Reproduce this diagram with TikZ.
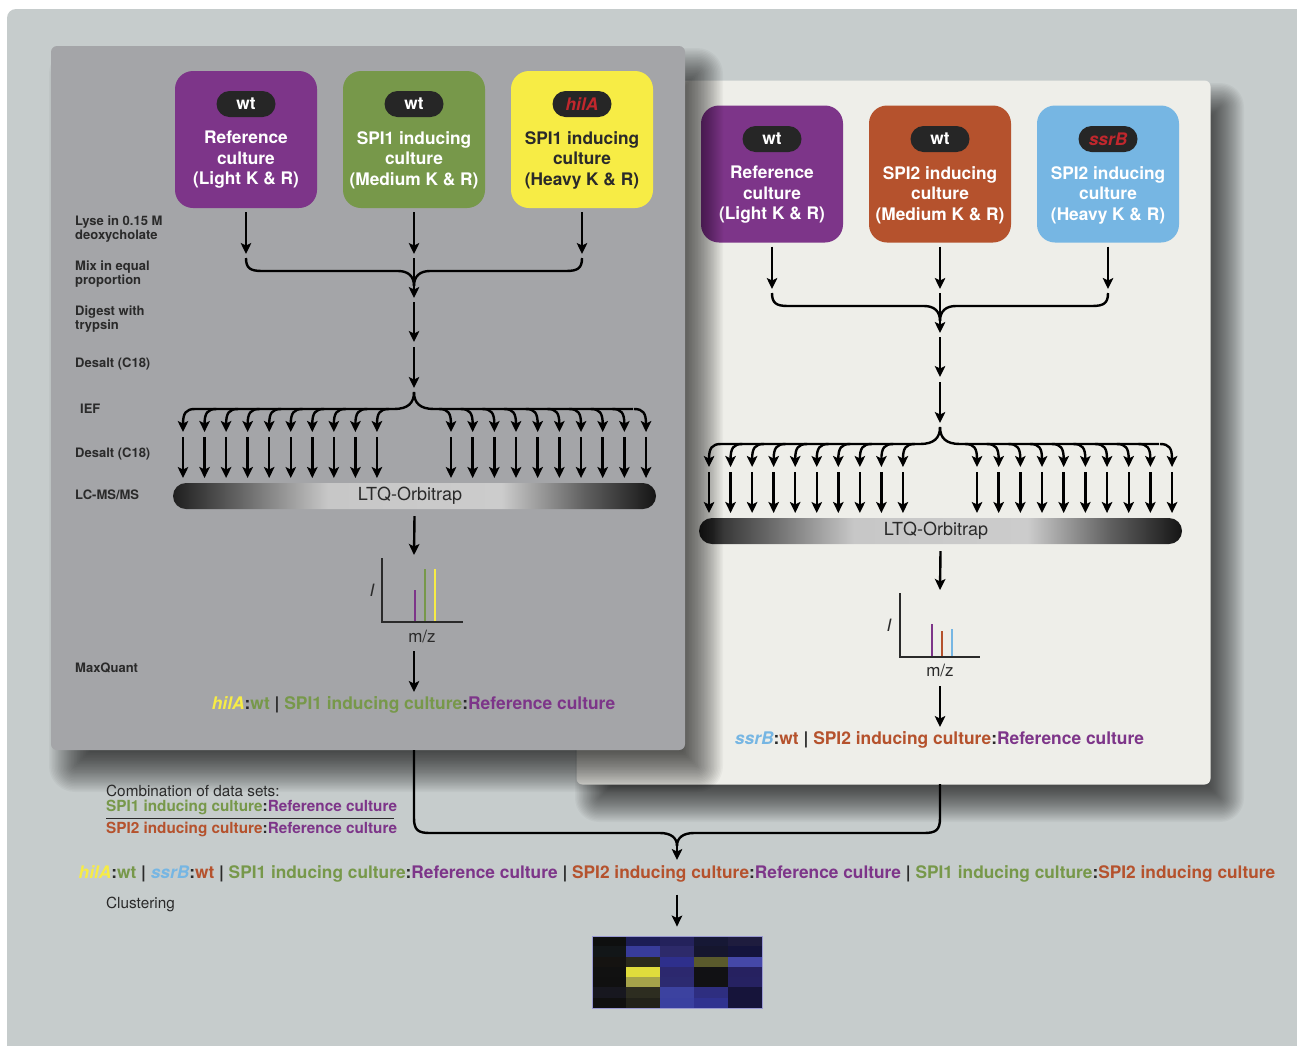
\documentclass[tikz,border=0pt]{standalone}
\usepackage{fontspec}
\setmainfont{TeX Gyre Heros}
\usetikzlibrary{arrows.meta}
\definecolor{bgout}{HTML}{C6CCCC}
\definecolor{panelL}{HTML}{A4A5A8}
\definecolor{panelR}{HTML}{EEEEE9}
\definecolor{cpur}{HTML}{7D3589}
\definecolor{cgrn}{HTML}{77984A}
\definecolor{cyel}{HTML}{F7EC45}
\definecolor{corg}{HTML}{B5522D}
\definecolor{cblu}{HTML}{76B6E3}
\definecolor{cred}{HTML}{C1272D}
\definecolor{cdark}{HTML}{262626}
\definecolor{ctext}{HTML}{2A2A2A}
\pgfdeclarehorizontalshading{ltq}{100bp}{color(0bp)=(black!88); color(25bp)=(black!88); color(32.5bp)=(black!58); color(41bp)=(black!22); color(59bp)=(black!20); color(67.5bp)=(black!62); color(75bp)=(black!92); color(100bp)=(black!92)}
\newcommand\fs[2]{\fontsize{#1}{#2}\selectfont}
% soft shadow: x1,y1,x2,y2,dx,dy,R
\newcommand\softshadow[7]{%
 \foreach \i in {0,...,27}{
   \pgfmathsetmacro\e{#7-2*#7*\i/27}
   \pgfmathsetmacro\rc{max(6+\e,1)}
   \fill[black, fill opacity=0.033, rounded corners=\rc pt] (#1+#5-\e,#2+#6-\e) rectangle (#3+#5+\e,#4+#6+\e);
 }}
\tikzset{
 arr/.style={line width=2.4pt, draw=black, -{Stealth[length=11pt,width=10.5pt,inset=2.5pt]}},
 ln/.style={line width=2.4pt, draw=black},
 cbox/.style={rounded corners=18pt, minimum width=142pt, minimum height=137pt, inner sep=0pt},
 pill/.style={fill=cdark, rounded corners=13pt, minimum width=59pt, minimum height=26pt, inner sep=0pt, font=\bfseries\fs{17.3}{20}},
 btxt/.style={align=center, font=\bfseries\fs{17.3}{20.5}, inner sep=0pt},
 lab/.style={anchor=west, align=left, font=\bfseries\fs{13}{14.5}, text=ctext, inner sep=0pt},
 res/.style={font=\bfseries\fs{17.4}{20}, inner sep=0pt, text=ctext},
 small/.style={anchor=west, font=\fs{15.3}{17}, inner sep=0pt, text=ctext},
 panel/.style={minimum width=634pt, minimum height=704pt, rounded corners=6pt, inner sep=0pt},
 ltqbar/.style={shading=ltq, rounded corners=13pt, minimum width=483pt, minimum height=26pt, inner sep=0pt},
}
% common flow inside one panel (left-panel coordinates); #1 = prefix
\newcommand\flow[1]{%
 \foreach \i/\x in {1/246,2/414,3/582}{
   \coordinate (#1t\i) at (\x,254);
   \draw[arr] ([yshift=-4pt]#1b\i.south) -- (#1t\i);
 }
 \draw[ln] (246,258) .. controls (246,268) and (250,271) .. (262,271) -- (398,271) .. controls (408,271) and (414,276) .. (414,286);
 \draw[ln] (582,258) .. controls (582,268) and (578,271) .. (566,271) -- (430,271) .. controls (420,271) and (414,276) .. (414,286);
 \coordinate (#1m0) at (414,258);
 \coordinate (#1m1) at (414,298);
 \draw[arr] (#1m0) -- (#1m1);
 \coordinate (#1d0) at (414,302);
 \coordinate (#1d1) at (414,342);
 \draw[arr] (#1d0) -- (#1d1);
 \coordinate (#1e0) at (414,347);
 \coordinate (#1e1) at (414,388);
 \draw[arr] (#1e0) -- (#1e1);
 \coordinate (#1f) at (414,392);
 \draw[ln] (#1f) .. controls (414,403) and (408,409) .. (394,409) -- (195,409);
 \draw[ln] (#1f) .. controls (414,403) and (420,409) .. (434,409) -- (633,409);
 \foreach \k in {0,...,9}{
   \pgfmathsetmacro\xa{183+21.55*\k}
   \pgfmathsetmacro\xb{451+21.67*\k}
   \draw[arr] (\xa+12,409) .. controls (\xa+3,409) and (\xa,413) .. (\xa,432);
   \draw[arr] (\xa,437) -- (\xa,478);
   \draw[arr] (\xb-12,409) .. controls (\xb-3,409) and (\xb,413) .. (\xb,432);
   \draw[arr] (\xb,437) -- (\xb,478);
 }
 \node[ltqbar] (#1bar) at (414.5,496) {};
 \node[font=\fs{18}{20}, text=ctext, inner sep=0pt] (#1ltq) at (410,496) {LTQ-Orbitrap};
 \coordinate (#1g1) at (414,555);
 \draw[arr] ([yshift=-7pt]#1bar.south) -- (#1g1);
 \coordinate (#1h0) at (414,651);
 \coordinate (#1h1) at (414,692);
 \draw[arr] (#1h0) -- (#1h1);
}
\begin{document}
\begin{tikzpicture}[x=1pt,y=-1pt]
\useasboundingbox (0,0) rectangle (1297,1045);
\begin{scope}
\clip (0,0) rectangle (1297,1045);
\fill[white] (0,0) rectangle (1297,1045);
\fill[bgout, rounded corners=9pt] (7,1080) -- (7,9) -- (1330,9) -- (1330,1080) -- cycle;
\end{scope}

% ---------- right panel ----------
\softshadow{577}{81}{1210}{784}{16}{20}{18}
\node[panel, fill=panelR] (Rpanel) at (893.5,432.5) {};
\begin{scope}[shift={(526,35)}]
 \node[cbox, fill=cpur] (Rb1) at (246,139) {};
 \node[cbox, fill=corg] (Rb2) at (414,139) {};
 \node[cbox, fill=cblu] (Rb3) at (582,139) {};
 \node[pill, text=white] (Rp1) at (246,104) {wt};
 \node[pill, text=white] (Rp2) at (414,104) {wt};
 \node[pill, text=cred] (Rp3) at (582,104) {\itshape ssrB};
 \node[btxt, text=white] (Rx1) at (246,160) {Reference\\culture\\(Light K \& R)};
 \node[btxt, text=white] (Rx2) at (414,160) {SPI2 inducing\\culture\\(Medium K \& R)};
 \node[btxt, text=white] (Rx3) at (582,160) {SPI2 inducing\\culture\\(Heavy K \& R)};
 \flow{R}
 \draw[line width=2.6pt, cpur] (406,589) -- (406,621);
 \draw[line width=2.6pt, corg] (416,596) -- (416,621);
 \draw[line width=2.6pt, cblu] (426,594) -- (426,621);
 \draw[line width=2.4pt, ctext, line join=miter] (374,558) -- (374,622) -- (454,622);
 \node[font=\itshape\fs{17}{20}, text=ctext, inner sep=0pt] (RI) at (363,590) {I};
 \node[font=\fs{17}{20}, text=ctext, inner sep=0pt] (Rmz) at (414,635) {m/z};
 \node[res] (Rres) at (413.5,705) {\textcolor{cblu}{\itshape ssrB}:\textcolor{corg}{wt} | \textcolor{corg}{SPI2 inducing culture}:\textcolor{cpur}{Reference culture}};
\end{scope}

% ---------- left panel ----------
\softshadow{51}{46}{685}{750}{18}{22}{20}
\node[panel, fill=panelL] (Lpanel) at (368,398) {};
\node[cbox, fill=cpur] (Lb1) at (246,139.5) {};
\node[cbox, fill=cgrn] (Lb2) at (414,139.5) {};
\node[cbox, fill=cyel] (Lb3) at (582,139.5) {};
\node[pill, text=white] (Lp1) at (246,104) {wt};
\node[pill, text=white] (Lp2) at (414,104) {wt};
\node[pill, text=cred] (Lp3) at (582,104) {\itshape hilA};
\node[btxt, text=white] (Lx1) at (246,160) {Reference\\culture\\(Light K \& R)};
\node[btxt, text=white] (Lx2) at (414,160) {SPI1 inducing\\culture\\(Medium K \& R)};
\node[btxt, text=ctext] (Lx3) at (582,160) {SPI1 inducing\\culture\\(Heavy K \& R)};
\flow{L}
\draw[line width=2.6pt, cpur] (415,590) -- (415,621);
\draw[line width=2.6pt, cgrn] (425,569) -- (425,621);
\draw[line width=2.6pt, cyel] (435,569) -- (435,621);
\draw[line width=2.4pt, ctext, line join=miter] (382,558) -- (382,622) -- (463,622);
\node[font=\itshape\fs{17}{20}, text=ctext, inner sep=0pt] (LI) at (372,590) {I};
\node[font=\fs{17}{20}, text=ctext, inner sep=0pt] (Lmz) at (422,636) {m/z};
\node[res] (Lres) at (413.5,705) {\textcolor{cyel}{\itshape hilA}:\textcolor{cgrn}{wt} | \textcolor{cgrn}{SPI1 inducing culture}:\textcolor{cpur}{Reference culture}};

\node[lab] (s1) at (75,229) {Lyse in 0.15 M\\deoxycholate};
\node[lab] (s2) at (75,274) {Mix in equal\\proportion};
\node[lab] (s3) at (75,319) {Digest with\\trypsin};
\node[lab] (s4) at (75,364) {Desalt (C18)};
\node[lab] (s5) at (80,409) {IEF};
\node[lab] (s6) at (75,454) {Desalt (C18)};
\node[lab] (s7) at (75,495) {LC-MS/MS};
\node[lab] (s8) at (75,668) {MaxQuant};

% ---------- combination ----------
\coordinate (Lout) at (414,750);
\coordinate (Rout) at (940,784);
\coordinate (jn) at (677,846);
\coordinate (jt) at (677,860);
\draw[ln] (Lout) -- (414,818) .. controls (414,830) and (418,833) .. (430,833) -- (660,833) .. controls (670,833) and (677,837) .. (jn);
\draw[ln] (Rout) -- (940,818) .. controls (940,830) and (936,833) .. (924,833) -- (694,833) .. controls (684,833) and (677,837) .. (jn);
\draw[arr] (jn) -- (jt);

\node[small] (c0) at (106,791) {Combination of data sets:};
\node[small, font=\bfseries\fs{15.3}{17}] (c1) at (106,807) {\textcolor{cgrn}{SPI1 inducing culture}:\textcolor{cpur}{Reference culture}};
\node[small, font=\bfseries\fs{15.3}{17}] (c2) at (106,829) {\textcolor{corg}{SPI2 inducing culture}:\textcolor{cpur}{Reference culture}};
\draw[line width=1pt, ctext] (c1.south west |- 0,818) -- (394,818);

\node[res, font=\bfseries\fs{17.3}{20}] (comb) at (677,874) {\textcolor{cyel}{\itshape hilA}:\textcolor{cgrn}{wt} | \textcolor{cblu}{\itshape ssrB}:\textcolor{corg}{wt} | \textcolor{cgrn}{SPI1 inducing culture}:\textcolor{cpur}{Reference culture} | \textcolor{corg}{SPI2 inducing culture}:\textcolor{cpur}{Reference culture} | \textcolor{cgrn}{SPI1 inducing culture}:\textcolor{corg}{SPI2 inducing culture}};
\node[small] (clu) at (106,904) {Clustering};

% ---------- heat map ----------
\foreach \row [count=\r from 0] in {{0E0F0F,1C1D55,24225C,161835,1E1C3E},{121618,383C9A,2D2A6A,15162E,14143C},{151311,2B2A1C,2E2F8C,5A5A2C,4548A8},{111111,E0DC3C,2C286E,111114,262160},{101010,A5A24A,2C2A70,111114,262262},{17171F,2D2D20,3C42A0,2E2E80,16143A},{101010,22221A,3A40A0,303290,16143A}}{
  \foreach \h [count=\c from 0] in \row {
    \definecolor{hc}{HTML}{\h}
    \fill[hc] (592+34*\c,936+10.29*\r) rectangle ++(34.4,10.6);
  }
}
\node[draw=black!45!blue!40, line width=0.8pt, minimum width=170pt, minimum height=72pt, inner sep=0pt] (heat) at (677,972) {};
\draw[arr] ([yshift=-12pt]comb.south) -- ([yshift=9pt]heat.north);
\end{tikzpicture}
\end{document}
